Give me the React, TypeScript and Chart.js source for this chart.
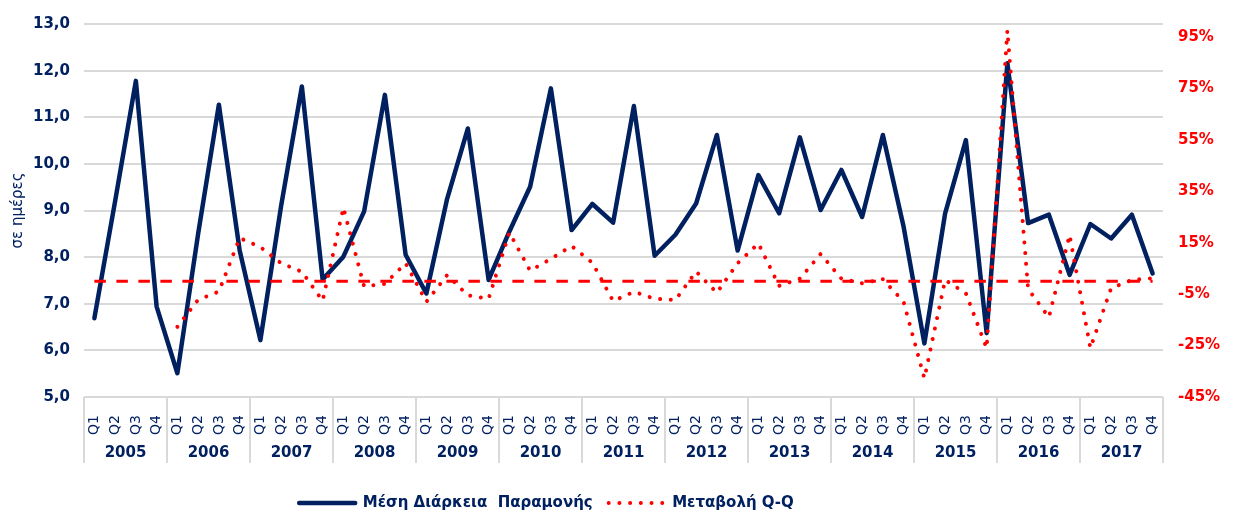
import { useEffect, useRef } from 'react';
import { Chart, registerables } from 'chart.js';

Chart.register(...registerables);

const years = ['2005', '2006', '2007', '2008', '2009', '2010', '2011', '2012', '2013', '2014', '2015', '2016', '2017'];
const quarters = ['Q1', 'Q2', 'Q3', 'Q4'];

// Μέση Διάρκεια Παραμονής (ημέρες), 2005Q1 .. 2017Q4
const avgStayDays = [
  6.69, 9.2, 11.78, 6.94,
  5.51, 8.5, 11.27, 8.15,
  6.22, 9.1, 11.66, 7.52,
  8.01, 8.98, 11.48, 8.05,
  7.22, 9.25, 10.76, 7.51,
  8.55, 9.51, 11.62, 8.58,
  9.14, 8.74, 11.24, 8.03,
  8.48, 9.15, 10.62, 8.14,
  9.76, 8.94, 10.57, 9.01,
  9.87, 8.86, 10.62, 8.65,
  6.15, 8.94, 10.51, 6.37,
  12.16, 8.73, 8.91, 7.62,
  8.71, 8.4, 8.91, 7.65,
];

// Μεταβολή Q-Q (%)
const changePct = [
  null, null, null, null,
  -17.7, -7.2, -4.0, 16.8,
  13.3, 7.0, 3.7, -7.6,
  28.6, -2.0, -1.0, 7.0,
  -8.0, 2.4, -5.5, -6.8,
  18.9, 4.1, 8.7, 13.7,
  7.2, -7.7, -4.1, -6.8,
  -7.3, 3.8, -4.5, 7.0,
  14.7, -1.8, 1.0, 10.6,
  1.0, -0.8, 0.8, -8.0,
  -37.7, 0.5, -4.7, -26.0,
  97.5, -3.0, -14.0, 18.0,
  -26.0, -2.7, 0.5, 1.2,
];

// reference line at 0% on the right axis
const zeroLine = [
  0, 0, 0, 0, 0, 0, 0, 0, 0, 0, 0, 0, 0,
  0, 0, 0, 0, 0, 0, 0, 0, 0, 0, 0, 0, 0,
  0, 0, 0, 0, 0, 0, 0, 0, 0, 0, 0, 0, 0,
  0, 0, 0, 0, 0, 0, 0, 0, 0, 0, 0, 0, 0,
];

const leftTicks = [5, 6, 7, 8, 9, 10, 11, 12, 13];
const rightTicks = [-45, -25, -5, 15, 35, 55, 75, 95];

const seriesNames = ['Μέση Διάρκεια  Παραμονής', 'Μεταβολή Q-Q'];

const NAVY = '#002060';
const RED = '#FF0000';
const GRID = '#D9D9D9';
const FONT = '"DejaVu Sans", Verdana, sans-serif';

const categoryLabels = years.flatMap(() => quarters.map((q) => q));

const yearAxisPlugin = {
  id: 'yearAxis',
  afterLayout(chart: any) {
    const lg = chart.legend;
    if (lg) {
      const dx = -70;
      const dy = 7.5;
      lg.left += dx;
      lg.right += dx;
      lg.top += dy;
      lg.bottom += dy;
    }
  },
  afterDraw(chart: any) {
    const xs = chart.scales.x;
    const area = chart.chartArea;
    const ctx = chart.ctx;
    const half = (xs.getPixelForValue(1) - xs.getPixelForValue(0)) / 2;
    ctx.save();
    ctx.strokeStyle = GRID;
    ctx.lineWidth = 2;
    for (let k = 0; k <= years.length; k++) {
      const bx = k < years.length
        ? xs.getPixelForValue(k * 4) - half
        : xs.getPixelForValue(years.length * 4 - 1) + half;
      ctx.beginPath();
      ctx.moveTo(Math.round(bx), area.bottom);
      ctx.lineTo(Math.round(bx), area.bottom + 66);
      ctx.stroke();
    }
    ctx.fillStyle = NAVY;
    ctx.font = 'bold 15px ' + FONT;
    ctx.textAlign = 'center';
    ctx.textBaseline = 'middle';
    years.forEach((yr, k) => {
      const cx = (xs.getPixelForValue(k * 4 + 1) + xs.getPixelForValue(k * 4 + 2)) / 2;
      ctx.fillText(yr, cx, area.bottom + 56);
    });
    ctx.restore();
  },
};

export default function App() {
  const canvasRef = useRef<HTMLCanvasElement | null>(null);

  useEffect(() => {
    if (!canvasRef.current) return;
    Chart.defaults.font.family = FONT;
    const defaultGen = (Chart.defaults as any).plugins.legend.labels.generateLabels;
    const chart = new Chart(canvasRef.current, {
      type: 'line',
      data: {
        labels: categoryLabels,
        datasets: [
          {
            label: seriesNames[0],
            data: avgStayDays,
            yAxisID: 'y',
            borderColor: NAVY,
            backgroundColor: NAVY,
            borderWidth: 4.5,
            borderJoinStyle: 'round',
            borderCapStyle: 'round',
            pointRadius: 0,
            tension: 0,
            order: 3,
          },
          {
            label: seriesNames[1],
            data: changePct,
            yAxisID: 'y1',
            borderColor: RED,
            backgroundColor: RED,
            borderWidth: 4,
            borderDash: [0.01, 10.7],
            borderCapStyle: 'round',
            borderJoinStyle: 'round',
            pointRadius: 0,
            tension: 0,
            order: 1,
          },
          {
            label: 'zero',
            data: zeroLine,
            yAxisID: 'y1',
            borderColor: RED,
            borderWidth: 3,
            borderDash: [11.5, 10.5],
            pointRadius: 0,
            tension: 0,
            order: 2,
          },
        ],
      },
      options: {
        animation: false,
        responsive: true,
        maintainAspectRatio: false,
        layout: { padding: { top: 24, left: 0, right: 0, bottom: 0 } },
        plugins: {
          tooltip: { enabled: false },
          legend: {
            position: 'bottom',
            labels: {
              usePointStyle: true,
              pointStyle: 'line',
              pointStyleWidth: 56,
              padding: 16,
              color: NAVY,
              font: { size: 15, weight: 'bold', family: FONT },
              generateLabels: (c: any) =>
                defaultGen(c).map((item: any) => {
                  const ds = c.data.datasets[item.datasetIndex];
                  item.lineDash = ds.borderDash || [];
                  item.lineCap = ds.borderCapStyle || 'butt';
                  item.lineWidth = ds.borderWidth;
                  item.strokeStyle = ds.borderColor;
                  return item;
                }),
              filter: (item: any) => item.datasetIndex !== 2,
              sort: (a: any, b: any) => a.datasetIndex - b.datasetIndex,
            },
          },
        },
        scales: {
          x: {
            type: 'category',
            offset: true,
            grid: { display: false },
            border: { display: false },
            ticks: {
              autoSkip: false,
              minRotation: 90,
              maxRotation: 90,
              padding: 10,
              color: NAVY,
              font: { size: 14, family: FONT },
            },
            afterFit: (s: any) => { s.height = 75; },
          },
          y: {
            position: 'left',
            min: 5,
            max: 13,
            afterBuildTicks: (s: any) => { s.ticks = leftTicks.map((v) => ({ value: v })); },
            ticks: {
              callback: (v: any) => Number(v).toFixed(1).replace('.', ','),
              color: NAVY,
              font: { size: 15, weight: 'bold', family: FONT },
              padding: 14,
            },
            grid: { color: GRID, lineWidth: 2, drawTicks: false },
            border: { display: false },
            title: {
              display: true,
              text: 'σε ημέρες',
              color: NAVY,
              font: { size: 15, family: FONT },
              padding: { top: 9, bottom: 0 },
            },
            afterFit: (s: any) => { s.width = 84; },
          },
          y1: {
            position: 'right',
            min: -45,
            max: 100,
            afterBuildTicks: (s: any) => { s.ticks = rightTicks.map((v) => ({ value: v })); },
            ticks: {
              callback: (v: any) => v + '%',
              color: RED,
              font: { size: 15, weight: 'bold', family: FONT },
              padding: 15,
            },
            grid: { display: false, drawOnChartArea: false, drawTicks: false },
            border: { display: false },
            afterFit: (s: any) => { s.width = 70; },
          },
        },
      },
      plugins: [yearAxisPlugin],
    } as any);
    return () => chart.destroy();
  }, []);

  return (
    <div style={{ position: 'fixed', left: 0, top: 0, width: 1233, height: 513, background: '#fff' }}>
      <canvas ref={canvasRef} />
    </div>
  );
}
